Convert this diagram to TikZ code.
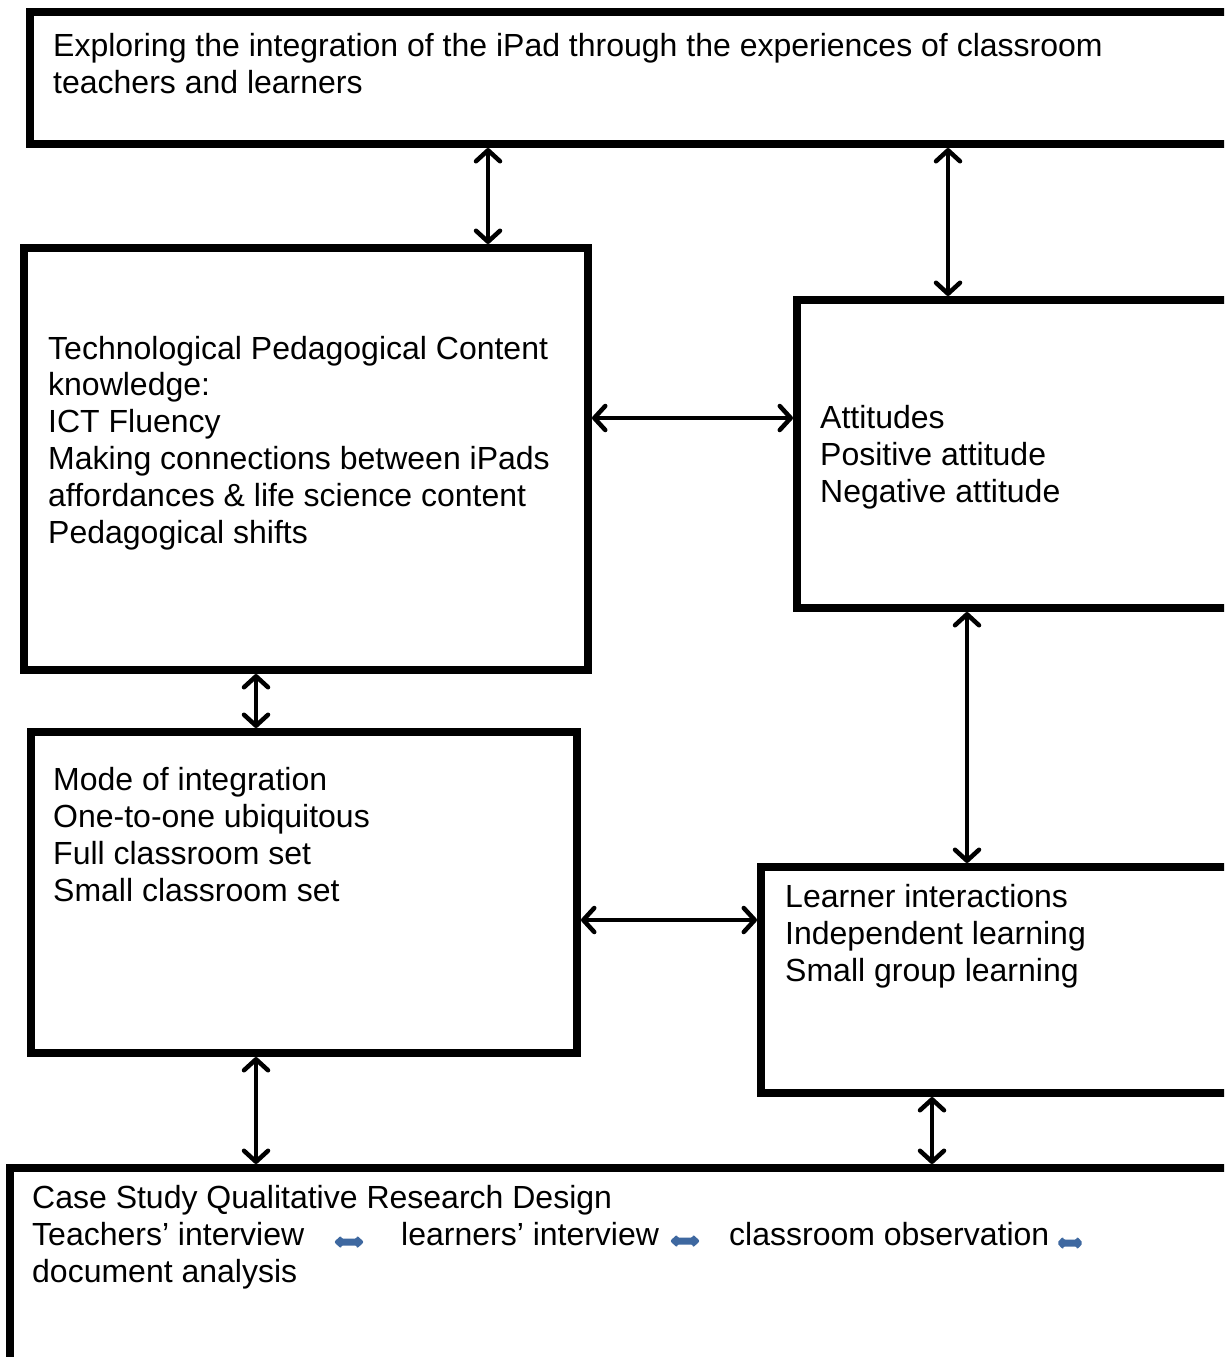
\documentclass[tikz,border=0pt]{standalone}
\usepackage{fontspec}
\setmainfont{Liberation Sans}
\usetikzlibrary{arrows.meta}
\definecolor{arrowblue}{RGB}{62,104,160}
\tikzset{
  box/.style={draw=black, line width=8pt, rectangle, inner sep=0pt, anchor=north west, fill=none},
  txt/.style={anchor=base west, align=left, inner sep=0pt, font=\fontsize{32}{36.8}\selectfont},
  dbl/.style={line width=4.5pt, {Straight Barb[length=11pt,width=24pt,round]}-{Straight Barb[length=11pt,width=24pt,round]}},
  pics/barrow/.style={code={
    \fill[arrowblue, rounded corners=2pt] (-15,0) -- (-8,-6.5) -- (-8,-3.5) -- (8,-3.5) -- (8,-6.5) -- (15,0) -- (8,6.5) -- (8,3.5) -- (-8,3.5) -- (-8,6.5) -- cycle;
  }}
}
\begin{document}
\begin{tikzpicture}[x=1pt,y=-1pt]
\useasboundingbox (0,0) rectangle (1224,1357);
\clip (0,0) rectangle (1224,1357);
\fill[white] (0,0) rectangle (1224,1357);

% boxes
\node[box, minimum width=1220pt, minimum height=132pt] (top) at (26,8) {};
\node[box, minimum width=564pt, minimum height=422pt] (tpck) at (20,244) {};
\node[box, minimum width=453pt, minimum height=308pt] (att) at (793,296) {};
\node[box, minimum width=546pt, minimum height=321pt] (mode) at (27,728) {};
\node[box, minimum width=489pt, minimum height=226pt] (learn) at (757,863) {};
\node[box, minimum width=1240pt, minimum height=232pt] (bot) at (6,1164) {};

% texts (anchored at the baseline of their last line)
\node[txt] (ttop) at (53,93) {Exploring the integration of the iPad through the experiences of classroom\\teachers and learners};
\node[txt] (ttpck) at (48,543) {Technological Pedagogical Content\\knowledge:\\ICT Fluency\\Making connections between iPads\\affordances \& life science content\\Pedagogical shifts};
\node[txt] (tatt) at (820,502) {Attitudes\\Positive attitude\\Negative attitude};
\node[txt] (tmode) at (53,901) {Mode of integration\\One-to-one ubiquitous\\Full classroom set\\Small classroom set};
\node[txt] (tlearn) at (785,981) {Learner interactions\\Independent learning\\Small group learning};
\node[txt] (tbot1) at (32,1208) {Case Study Qualitative Research Design};
\node[txt] (tbot2) at (32,1245) {Teachers’ interview};
\node[txt] (tbot3) at (401,1245) {learners’ interview};
\node[txt] (tbot4) at (729,1245) {classroom observation};
\node[txt] (tbot5) at (32,1282) {document analysis};

\pic at (349,1242) {barrow};
\pic at (685,1241) {barrow};
\pic[xscale=0.87] at (1070,1243) {barrow};

% connector guide coordinates
\coordinate (c1) at (488,0);
\coordinate (c2) at (948,0);
\coordinate (c3) at (0,418);
\coordinate (c4) at (256,0);
\coordinate (c5) at (967,0);
\coordinate (c6) at (0,920);
\coordinate (c7) at (256,0);
\coordinate (c8) at (932,0);

\draw[dbl] (top.south -| c1) -- (tpck.north -| c1);
\draw[dbl] (top.south -| c2) -- (att.north -| c2);
\draw[dbl] (tpck.east |- c3) -- (att.west |- c3);
\draw[dbl] (tpck.south -| c4) -- (mode.north -| c4);
\draw[dbl] (att.south -| c5) -- (learn.north -| c5);
\draw[dbl] (mode.east |- c6) -- (learn.west |- c6);
\draw[dbl] (mode.south -| c7) -- (bot.north -| c7);
\draw[dbl] (learn.south -| c8) -- (bot.north -| c8);
\end{tikzpicture}
\end{document}
